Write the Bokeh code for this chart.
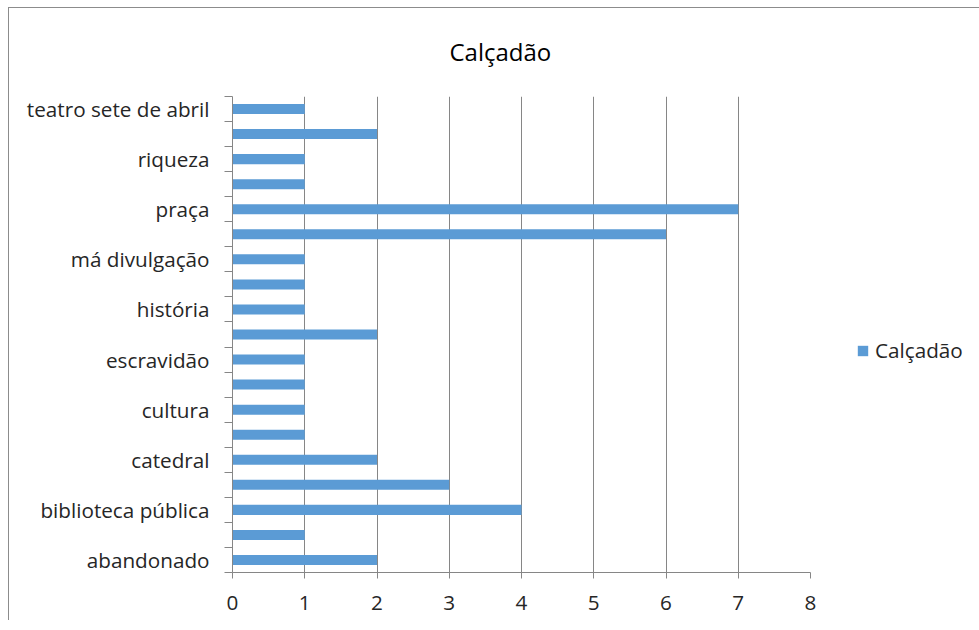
from bokeh.plotting import figure
from bokeh.models import (ColumnDataSource, FixedTicker, Legend, LegendItem, Range1d, Title)
from bokeh.embed import file_html
from bokeh.resources import INLINE

# Data (bottom to top); Excel shows only every other category label
categories = ["abandonado", "", "biblioteca pública", "", "catedral", "", "cultura", "",
              "escravidão", "", "história", "", "má divulgação", "", "praça", "",
              "riqueza", "", "teatro sete de abril"]
values = [2, 1, 4, 3, 2, 1, 1, 1, 1, 2, 1, 1, 1, 6, 7, 1, 1, 2, 1]
series_name = "Calçadão"
x_ticks = [0, 1, 2, 3, 4, 5, 6, 7, 8]

FONT = "Open Sans"
BAR = "#5B9BD5"
GRID = "#868686"
TXT = "#262626"
FS = "20.7px"

pos = list(range(len(categories)))
src = ColumnDataSource(dict(y=pos, v=values, cat=categories))

p = figure(frame_width=578, frame_height=476, width=966, height=612,
           min_border_left=223, min_border_top=88, min_border_bottom=48, min_border_right=165,
           output_backend="svg", toolbar_location=None,
           x_range=Range1d(0, 8), y_range=Range1d(-0.5, len(categories) - 0.5))

r = p.hbar(y="y", left=0, right="v", height=0.4, source=src, fill_color=BAR, line_color=None)

p.title = Title(text=series_name, align="left", offset=217, text_font=FONT,
                text_font_size="24px", text_font_style="normal", text_color="#000000",
                standoff=53, vertical_align="top")

# x axis
p.xaxis.ticker = FixedTicker(ticks=x_ticks)
p.xaxis.axis_line_color = GRID
p.xaxis.major_tick_line_color = GRID
p.xaxis.major_tick_out = 6
p.xaxis.major_tick_in = 0
p.xaxis.minor_tick_line_color = None
p.xaxis.major_label_text_font = FONT
p.xaxis.major_label_text_font_size = FS
p.xaxis.major_label_text_color = TXT
p.xaxis.major_label_standoff = 17

# y axis: labels at even categories, tick marks at category boundaries
label_pos = [i for i, c in enumerate(categories) if c]
p.yaxis.ticker = FixedTicker(ticks=label_pos,
                             minor_ticks=[i - 0.5 for i in range(len(categories) + 1)])
p.yaxis.major_label_overrides = {i: categories[i] for i in label_pos}
p.yaxis.axis_line_color = GRID
p.yaxis.major_tick_line_color = None
p.yaxis.major_tick_out = 0
p.yaxis.major_tick_in = 0
p.yaxis.minor_tick_line_color = GRID
p.yaxis.minor_tick_out = 8
p.yaxis.minor_tick_in = 0
p.yaxis.major_label_text_font = FONT
p.yaxis.major_label_text_font_size = FS
p.yaxis.major_label_text_color = TXT
p.yaxis.major_label_standoff = 15

p.xgrid.ticker = FixedTicker(ticks=x_ticks)
p.xgrid.grid_line_color = GRID
p.ygrid.grid_line_color = None
p.outline_line_color = None
p.background_fill_color = "white"
p.border_fill_color = "white"

legend = Legend(items=[LegendItem(label=series_name, renderers=[r])],
                location=(46, 208), orientation="vertical",
                label_text_font=FONT, label_text_font_size=FS, label_text_color=TXT,
                glyph_width=13, glyph_height=13, label_standoff=6,
                padding=0, margin=0, spacing=0, border_line_color=None,
                background_fill_alpha=0)
p.add_layout(legend, "right")

p.styles = {"border-top": "1px solid #8c8c8c", "border-left": "1px solid #8c8c8c",
            "margin-left": "8px", "margin-top": "7px"}

open("out.html", "w").write(file_html(p, INLINE))
